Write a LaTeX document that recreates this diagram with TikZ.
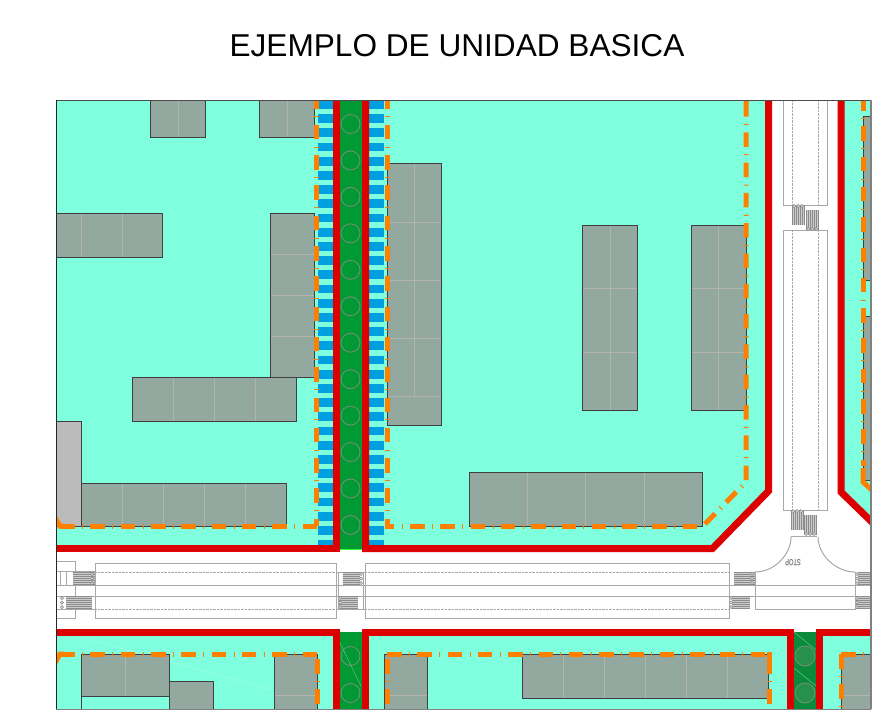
\documentclass[tikz,border=0pt]{standalone}
\usepackage{fontspec}
\setmainfont{Liberation Sans}
\definecolor{plotaqua}{HTML}{80FFDF}
\definecolor{plotgray}{HTML}{93A89F}
\definecolor{sidegray}{HTML}{BBBBBB}
\definecolor{kerbred}{HTML}{DD0000}
\definecolor{parkgreen}{HTML}{009933}
\definecolor{parkdark}{HTML}{0A8A3A}
\definecolor{bayblue}{HTML}{00A0E0}
\definecolor{limitorange}{HTML}{FF8000}
\definecolor{roadgray}{HTML}{A8A8A8}
\definecolor{treegray}{HTML}{6E8E70}
\definecolor{partgray}{HTML}{B4B4AE}
\tikzset{
	kerb/.style = {draw = kerbred, line width = 7pt, miter limit = 10},
	limit/.style = {draw = limitorange, line width = 5pt, dash pattern = on 14.5pt off 7.4pt on 1pt off 7.4pt},
	limitsolid/.style = {draw = limitorange, line width = 5pt},
	plot/.style = {fill = plotgray},
	plotline/.style = {draw = black!75, line width = 1pt},
	partition/.style = {draw = partgray, line width = 0.8pt},
	roadline/.style = {draw = roadgray, line width = 1pt},
	roaddots/.style = {draw = roadgray, line width = 1pt, dash pattern = on 0.7pt off 0.7pt},
	zebraline/.style = {draw = gray!90, line width = 0.7pt},
	treeline/.style = {draw = treegray, line width = 1pt}
}
\newcommand{\plotlist}{150/100/205/137, 259/100/314/137, 56/213/162/257, 270/213/314/377, 132/377/296/421, 81/483/286/526, 387/163/441/425, 582/225/637/410, 691/225/746/410, 469/472/702/526, 863/116/875/280, 863/316/875/480, 81/654/169/696, 169/681/213/709, 274/654/317/709, 384/654/427/709, 522/654/768/698, 841/654/875/709}
\newcommand{\zebrah}[5]{
	\fill[white!60!gray] (#1,#2) rectangle (#3,#4);
	\foreach \dy in {0,2,...,12} \draw[zebraline] (#1,{#2+\dy}) -- (#3,{#2+\dy});
	\foreach \dy in {2,6.5,11} \draw[zebraline, fill = white] (#5,{#2+\dy}) circle (1.5pt);
}
\newcommand{\zebrav}[5]{
	\fill[white!60!gray] (#1,#2) rectangle (#3,#4);
	\foreach \dx in {0,2,...,12} \draw[zebraline] ({#1+\dx},#2) -- ({#1+\dx},#4);
	\foreach \dx in {2,6,10} \draw[zebraline, fill = white] ({#1+\dx},#5) circle (1.5pt);
}

\begin{document}
\begin{tikzpicture}[x = 1pt, y = -1pt]
	\useasboundingbox (0,0) rectangle (893,720);
	\node[font = \fontsize{31.6}{36}\selectfont] (TITLE) at (457,46) {EJEMPLO DE UNIDAD BASICA};

	\begin{scope}
		\clip (56,100) rectangle (871,709);
		\fill[plotaqua] (56,100) rectangle (336,548);
		\fill[plotaqua] (365,100) -- (365,548) -- (712,548) -- (768,491) -- (768,100) -- cycle;
		\fill[plotaqua] (841,100) -- (841,492) -- (871,521) -- (871,100) -- cycle;
		\fill[plotaqua] (56,632) rectangle (336,709);
		\fill[plotaqua] (365,632) rectangle (790,709);
		\fill[plotaqua] (820,632) rectangle (871,709);
		\draw[white, opacity = 0.2, line width = 0.7pt] (80,637) -- (273,690);

		\fill[parkgreen] (340,100) rectangle (361.5,549);
		\draw[green!80!white, line width = 0.7pt] (340,549.5) -- (361.5,549.5);
		\fill[parkgreen] (340,632) rectangle (361.5,709);
		\fill[parkdark] (794,632) rectangle (816,709);
		\foreach \i in {0,...,31} {
			\fill[bayblue] (317.5,{100+14.2*\i}) rectangle (332.5,{108.7+14.2*\i});
			\fill[bayblue] (369,{100+14.2*\i}) rectangle (384,{108.7+14.2*\i});
		}
		\foreach \i in {0,...,11} \draw[treeline] (350.5,{124+36.45*\i}) circle (9.5pt);
		\foreach \cy in {656,693} {
			\draw[treeline] (350.5,\cy) circle (9.5pt);
			\draw[treeline, fill = parkgreen!70!gray] (805,\cy) circle (10pt);
		}
		\draw[parkgreen!60!white, line width = 0.5pt] (340,643) -- (361,686);
		\draw[parkgreen!60!white, line width = 0.5pt] (794,632) -- (816,650) (794,668) -- (816,686);

		\foreach \xa/\ya/\xb/\yb in \plotlist \fill[plot] (\xa,\ya) rectangle (\xb,\yb);
		\fill[sidegray] (56,421) rectangle (81,526);
		\draw[partition]
			(178,100) -- (178,137)
			(287,100) -- (287,137)
			(81,213) -- (81,257) (122,213) -- (122,257)
			(270,254) -- (314,254) (270,295) -- (314,295) (270,336) -- (314,336)
			(173,377) -- (173,421) (214,377) -- (214,421) (255,377) -- (255,421)
			(122,483) -- (122,526) (163,483) -- (163,526) (204,483) -- (204,526) (245,483) -- (245,526)
			(414,163) -- (414,396)
			(387,222) -- (441,222) (387,280) -- (441,280) (387,338) -- (441,338) (387,396) -- (441,396)
			(582,288) -- (637,288) (582,352) -- (637,352) (610,225) -- (610,410)
			(691,288) -- (746,288) (691,352) -- (746,352) (718,225) -- (718,410)
			(527,472) -- (527,526) (585,472) -- (585,526) (644,472) -- (644,526)
			(125,654) -- (125,696)
			(274,695) -- (317,695)
			(384,695) -- (427,695)
			(563,654) -- (563,698) (604,654) -- (604,698) (645,654) -- (645,698) (686,654) -- (686,698) (727,654) -- (727,698)
			(841,695) -- (871,695);

		\foreach \xa/\ya/\xb/\yb in \plotlist \draw[plotline] (\xa,\ya) rectangle (\xb,\yb);
		\draw[plotline] (56,421) rectangle (81,526);
		\draw[plotline] (81,696) -- (81,709);

		\draw[limit] (316,94.5) -- (316,526);
		\draw[limit] (317,526) -- (60,526);
		\draw[limitsolid] (55,518) -- (60,526) -- (64,526);
		\draw[limit] (387,94.5) -- (387,526) -- (703,526);
		\draw[limitsolid] (746,100) -- (746,102);
		\draw[limit] (746,102) -- (746,482) -- (703,526);
		\draw[limit] (863,96) -- (863,466);
		\draw[limitsolid] (863,468) -- (863,482) -- (874,492);
		\draw[limit] (317,654) -- (60,654);
		\draw[limitsolid] (55,663) -- (60,654) -- (64,654);
		\draw[limit] (317,659) -- (317,709);
		\draw[limit] (387,654) -- (769,654);
		\draw[limit] (387,659) -- (387,709);
		\draw[limitsolid] (769,652) -- (769,659);
		\draw[limit] (769,659) -- (769,709);
		\draw[limit] (841,654) -- (871,654);
		\draw[limit] (841,654) -- (841,709);

		\draw[kerb] (50,548.5) -- (336,548.5) -- (336,95);
		\draw[kerb] (365.5,95) -- (365.5,548.5) -- (712.5,548.5) -- (768.5,491) -- (768.5,95);
		\draw[kerb] (841,95) -- (841,492) -- (875,525);
		\draw[kerb] (50,632.5) -- (336.5,632.5) -- (336.5,715);
		\draw[kerb] (365,715) -- (365,632.5) -- (790.5,632.5) -- (790.5,715);
		\draw[kerb] (819.5,715) -- (819.5,632.5) -- (875,632.5);

		\draw[roadline] (95,563) rectangle (336,618);
		\draw[roadline] (365,563) rectangle (729,618);
		\draw[roadline] (56,585) -- (871,585) (56,596) -- (871,596);
		\draw[roaddots] (95,572) -- (336,572) (95,609) -- (336,609);
		\draw[roaddots] (365,572) -- (729,572) (365,609) -- (729,609);
		\draw[roadline] (336,572) -- (338,572) -- (338,609) -- (336,609);
		\draw[roadline] (365,572) -- (363,572) -- (363,609) -- (365,609);
		\draw[roadline] (338,572) -- (363,572) (338,609) -- (363,609);

		\draw[roadline] (56,561) -- (75,561) -- (75,618) -- (56,618);
		\draw[roadline] (56,571) -- (95,571) (56,609) -- (95,609);
		\draw[roadline] (60,571) -- (60,585) (66,571) -- (66,585);
		\zebrah{73}{572}{95}{585}{92}
		\zebrah{66}{596}{92}{609}{62}
		\zebrah{343}{572}{360}{585}{361}
		\zebrah{339}{596}{358}{609}{340}
		\zebrah{734}{572}{755}{585}{752}
		\zebrah{732}{596}{750}{609}{731}
		\zebrah{858}{572}{871}{585}{857}
		\zebrah{856}{596}{871}{609}{857}

		\draw[roadline] (755,572) -- (755,609) -- (855,609) -- (855,572);
		\draw[roadline] (755,572) .. controls (775,572) and (791,554) .. (791,537);
		\draw[roadline] (855,572) .. controls (835,572) and (818,554) .. (818,537);

		\draw[roadline] (783,100) rectangle (827,205);
		\draw[roadline] (783,230) rectangle (827,510);
		\draw[roaddots] (792,100) -- (792,205) (818,100) -- (818,205);
		\draw[roaddots] (792,230) -- (792,510) (818,230) -- (818,510);
		\zebrav{792}{205}{805}{225}{206}
		\zebrav{806}{210}{818}{230}{229}
		\zebrav{791}{510}{804}{530}{511}
		\zebrav{804}{515}{817}{535}{534}
		\draw[roadline] (791,536) -- (817,536);
		\node[rotate = 180, xscale = 0.65, text = gray, inner sep = 0pt, font = \fontsize{9}{10}\selectfont\bfseries] (STOP) at (793,563) {STOP};
	\end{scope}

	\draw[black!70, line width = 0.9pt] (56,100) -- (871,100);
	\draw[black!85, line width = 1pt] (56,100) -- (56,709);
	\draw[gray, line width = 1.3pt] (871,100) -- (871,709);
	\draw[gray, line width = 1pt] (56,709) -- (871,709);
\end{tikzpicture}
\end{document}
